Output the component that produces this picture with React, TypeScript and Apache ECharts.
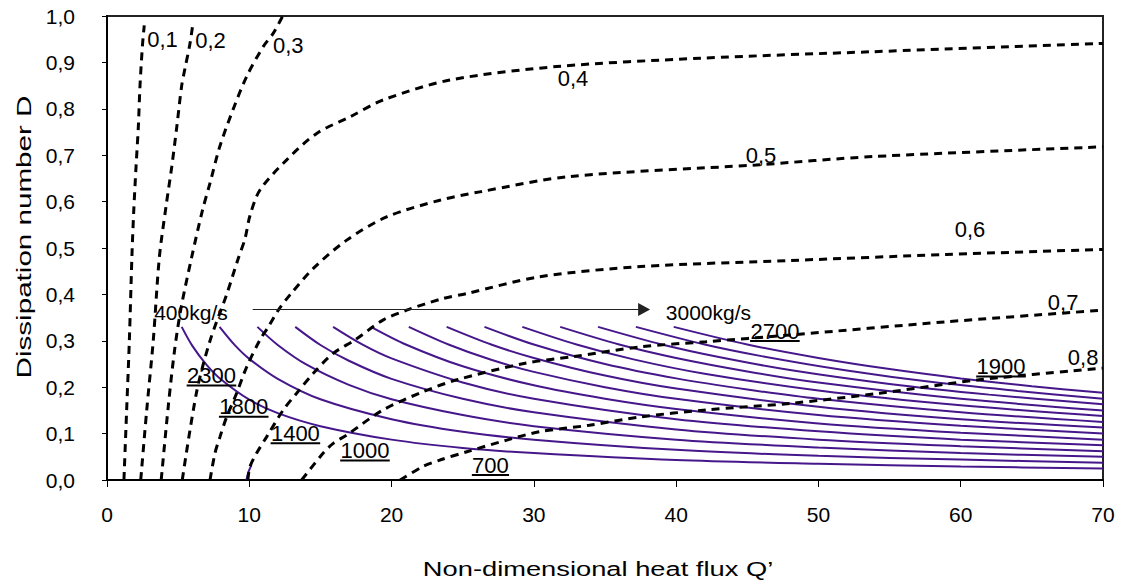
import React, { useEffect, useRef } from "react";
import * as echarts from "echarts";

// ---- axis ticks ----
const xTicks = [0, 10, 20, 30, 40, 50, 60, 70];
const yMin = 0;
const yMax = 1;
const yStep = 0.1;

// ---- dissipation iso-lines (dashed): [Q', D] ----
const dash01 = [[1.19, 0], [1.38, 0.15], [1.57, 0.3], [1.76, 0.49], [1.88, 0.58], [2.04, 0.675], [2.2, 0.76], [2.32, 0.85], [2.5, 0.94], [2.62, 0.98]];
const dash02 = [[2.37, 0], [2.79, 0.15], [3.25, 0.3], [3.68, 0.48], [4.15, 0.59], [4.55, 0.675], [4.9, 0.76], [5.25, 0.85], [5.5, 0.89], [5.83, 0.94], [6.02, 0.98]];
const dash03 = [[3.81, 0], [4.31, 0.16], [4.75, 0.28], [5.2, 0.37], [5.95, 0.48], [6.7, 0.58], [7.24, 0.64], [7.94, 0.72], [8.88, 0.8], [9.82, 0.87], [10.98, 0.934], [11.69, 0.963], [12.35, 1.0]];
const dash04 = [[5.29, 0], [6.3, 0.19], [7.24, 0.3], [8.41, 0.4], [9.23, 0.478], [9.7, 0.52], [10.05, 0.57], [10.75, 0.625], [12.63, 0.69], [14.74, 0.747], [17.1, 0.783], [19.4, 0.819], [24.1, 0.862], [31.6, 0.891], [41.7, 0.909], [53.8, 0.923], [70, 0.941]];
const dash05 = [[7.24, 0], [7.59, 0.058], [7.94, 0.093], [8.41, 0.136], [9.11, 0.187], [9.82, 0.244], [10.75, 0.302], [11.34, 0.33], [12.04, 0.366], [12.86, 0.399], [14.5, 0.456], [16.85, 0.517], [19.65, 0.567], [23.4, 0.603], [26.2, 0.621], [32.5, 0.654], [45.6, 0.679], [53.8, 0.697], [70, 0.718]];
const dash06 = [[9.9, 0], [10.05, 0.029], [10.52, 0.058], [11.22, 0.093], [12.39, 0.151], [13.33, 0.187], [14.5, 0.23], [15.9, 0.273], [17.43, 0.302], [19.42, 0.345], [21.06, 0.366], [23.6, 0.391], [25.3, 0.402], [30.4, 0.438], [37.5, 0.46], [48, 0.473], [59, 0.486], [70, 0.497]];
const dash07 = [[13.68, 0], [15.2, 0.058], [15.9, 0.079], [16.85, 0.097], [19.4, 0.151], [22.2, 0.19], [24.6, 0.216], [29.3, 0.251], [32.8, 0.266], [37.5, 0.287], [42.1, 0.298], [48, 0.3125], [59, 0.341], [70, 0.366]];
const dash08 = [[20.6, 0], [22.2, 0.029], [23.4, 0.043], [25.3, 0.061], [28.1, 0.086], [30.4, 0.104], [33.9, 0.118], [37.5, 0.136], [42.1, 0.151], [48, 0.165], [54.3, 0.187], [61.3, 0.216], [70, 0.241]];
const dashCurves = [dash01, dash02, dash03, dash04, dash05, dash06, dash07, dash08];

// ---- mass-flow curves 400 ... 3000 kg/s (solid purple): [Q', D] ----
const flow400 = [[5.25, 0.33], [6, 0.289], [7, 0.248], [8, 0.217], [10, 0.173], [12, 0.144], [15, 0.116], [20, 0.087], [25, 0.069], [30, 0.058], [40, 0.043], [50, 0.035], [60, 0.029], [70, 0.025]];
const flow600 = [[7.91, 0.33], [9, 0.29], [10, 0.261], [12, 0.218], [15, 0.174], [20, 0.131], [25, 0.104], [30, 0.087], [40, 0.065], [50, 0.052], [60, 0.044], [70, 0.037]];
const flow800 = [[10.57, 0.33], [12, 0.291], [14, 0.249], [17, 0.205], [20, 0.174], [25, 0.14], [30, 0.116], [40, 0.087], [50, 0.07], [60, 0.058], [70, 0.05]];
const flow1000 = [[13.23, 0.33], [15, 0.291], [17, 0.257], [20, 0.218], [25, 0.175], [30, 0.146], [40, 0.109], [50, 0.087], [60, 0.073], [70, 0.062]];
const flow1200 = [[15.89, 0.33], [18, 0.291], [20, 0.262], [25, 0.21], [30, 0.175], [40, 0.131], [50, 0.105], [60, 0.087], [70, 0.075]];
const flow1400 = [[18.55, 0.33], [21, 0.292], [25, 0.245], [30, 0.204], [35, 0.175], [40, 0.153], [50, 0.122], [60, 0.102], [70, 0.087]];
const flow1600 = [[21.21, 0.33], [24, 0.292], [27, 0.259], [30, 0.233], [35, 0.2], [40, 0.175], [50, 0.14], [60, 0.117], [70, 0.1]];
const flow1800 = [[23.87, 0.33], [27, 0.292], [30, 0.263], [35, 0.225], [40, 0.197], [50, 0.158], [60, 0.131], [70, 0.113]];
const flow2000 = [[26.53, 0.33], [30, 0.292], [35, 0.25], [40, 0.219], [45, 0.195], [50, 0.175], [60, 0.146], [70, 0.125]];
const flow2200 = [[29.19, 0.33], [33, 0.292], [37, 0.26], [42, 0.229], [50, 0.193], [60, 0.161], [70, 0.138]];
const flow2400 = [[31.85, 0.33], [36, 0.292], [40, 0.263], [45, 0.234], [50, 0.21], [60, 0.175], [70, 0.15]];
const flow2600 = [[34.51, 0.33], [39, 0.292], [43, 0.265], [48, 0.237], [55, 0.207], [62, 0.184], [70, 0.163]];
const flow2800 = [[37.17, 0.33], [42, 0.292], [46, 0.267], [52, 0.236], [58, 0.211], [64, 0.192], [70, 0.175]];
const flow3000 = [[39.83, 0.33], [45, 0.292], [50, 0.263], [55, 0.239], [60, 0.219], [65, 0.202], [70, 0.188]];
const flowStub = [[9.8, 0], [9.95, 0.018], [10.15, 0.032]];
const flowCurves = [flow400, flow600, flow800, flow1000, flow1200, flow1400, flow1600, flow1800, flow2000, flow2200, flow2400, flow2600, flow2800, flow3000, flowStub];

// ---- annotations ----
const isoTexts = ["0,1", "0,2", "0,3", "0,4", "0,5", "0,6", "0,7", "0,8", "400kg/s", "3000kg/s"];
const isoQ = [3.9, 7.27, 12.74, 32.75, 45.96, 60.65, 67.2, 68.6, 5.9, 42.27];
const isoD = [0.949, 0.948, 0.9375, 0.866, 0.7, 0.539, 0.3825, 0.264, 0.361, 0.36];

const ulTexts = ["2300", "1800", "1400", "1000", "700", "2700", "1900"];
const ulQ = [7.34, 9.61, 13.24, 18.13, 26.95, 46.94, 62.83];
const ulD = [0.225, 0.158, 0.1006, 0.0636, 0.0323, 0.321, 0.2446];

const arrowQ = [10.24, 37.75];
const arrowD = 0.3675;

const FONT = '"Liberation Sans", Arial, Helvetica, sans-serif';
const PURPLE = "#45178a";

export default function App() {
  const ref = useRef<HTMLDivElement>(null);
  useEffect(() => {
    document.body.style.margin = "0";
    const chart = echarts.init(ref.current!, undefined, { renderer: "svg" });

    const series: any[] = [];
    flowCurves.forEach((c, i) => {
      series.push({
        type: "line",
        name: "flow" + i,
        data: c,
        smooth: 0.3,
        symbol: "none",
        lineStyle: { color: PURPLE, width: 2 },
        z: 2,
      });
    });
    dashCurves.forEach((c, i) => {
      series.push({
        type: "line",
        name: "D" + i,
        data: c,
        smooth: 0.3,
        symbol: "none",
        lineStyle: { color: "#000", width: 3, type: [8, 6] },
        z: 3,
      });
    });
    series.push({
      type: "line",
      data: [],
      markLine: {
        silent: true,
        symbol: ["none", "triangle"],
        symbolSize: [13, 12],
        symbolRotate: -90,
        label: { show: false },
        lineStyle: { color: "#222", width: 1.2, type: "solid" },
        data: [[{ coord: [arrowQ[0], arrowD] }, { coord: [arrowQ[1], arrowD] }]],
      },
    });
    series.push({
      type: "custom",
      data: isoTexts.map((t, i) => [isoQ[i], isoD[i]]),
      z: 5,
      renderItem: (params: any, api: any) => {
        const p = api.coord([api.value(0), api.value(1)]);
        const t = isoTexts[params.dataIndex];
        const big = t.length <= 3;
        return {
          type: "text",
          x: p[0],
          y: p[1],
          style: {
            text: t,
            fill: "#000",
            font: (big ? 22 : 21) + "px " + FONT,
            align: "center",
            verticalAlign: "middle",
          },
        };
      },
    });
    series.push({
      type: "custom",
      data: ulTexts.map((t, i) => [ulQ[i], ulD[i]]),
      z: 5,
      renderItem: (params: any, api: any) => {
        const p = api.coord([api.value(0), api.value(1)]);
        const t = ulTexts[params.dataIndex];
        const w = t.length * 12.4;
        return {
          type: "group",
          children: [
            {
              type: "text",
              x: p[0],
              y: p[1],
              style: { text: t, fill: "#000", font: "22px " + FONT, align: "center", verticalAlign: "middle" },
            },
            {
              type: "line",
              shape: { x1: p[0] - w / 2, y1: p[1] + 10, x2: p[0] + w / 2, y2: p[1] + 10 },
              style: { stroke: "#000", lineWidth: 2 },
            },
          ],
        };
      },
    });

    chart.setOption({
      animation: false,
      grid: { left: 107, right: 18, top: 16, bottom: 102, show: true, borderColor: "#222", borderWidth: 2, backgroundColor: "#fff" },
      xAxis: {
        type: "value",
        min: xTicks[0],
        max: xTicks[xTicks.length - 1],
        interval: 10,
        axisLine: { lineStyle: { color: "#000", width: 2 } },
        axisTick: { show: true, length: 7, lineStyle: { color: "#000", width: 1 } },
        axisLabel: { color: "#000", fontSize: 21, fontFamily: FONT, margin: 24 },
        splitLine: { show: false },
      },
      yAxis: {
        type: "value",
        min: yMin,
        max: yMax,
        interval: yStep,
        axisLine: { show: true, lineStyle: { color: "#000", width: 2 } },
        axisTick: { show: true, length: 5, lineStyle: { color: "#000", width: 1 } },
        axisLabel: {
          color: "#000",
          fontSize: 21,
          fontFamily: FONT,
          margin: 32,
          formatter: (v: number) => v.toFixed(1).replace(".", ","),
        },
        splitLine: { show: false },
      },
      graphic: [
        {
          type: "text",
          x: 598,
          y: 569,
          scaleX: 1.3,
          style: { text: "Non-dimensional heat flux Q’", fill: "#000", font: "21px " + FONT, align: "center", verticalAlign: "middle" },
        },
        {
          type: "text",
          x: 24,
          y: 237,
          rotation: Math.PI / 2,
          scaleX: 1.48,
          style: { text: "Dissipation number D", fill: "#000", font: "20px " + FONT, align: "center", verticalAlign: "middle" },
        },
      ],
      series,
    });
    return () => chart.dispose();
  }, []);
  return <div ref={ref} style={{ width: 1121, height: 582 }} />;
}
